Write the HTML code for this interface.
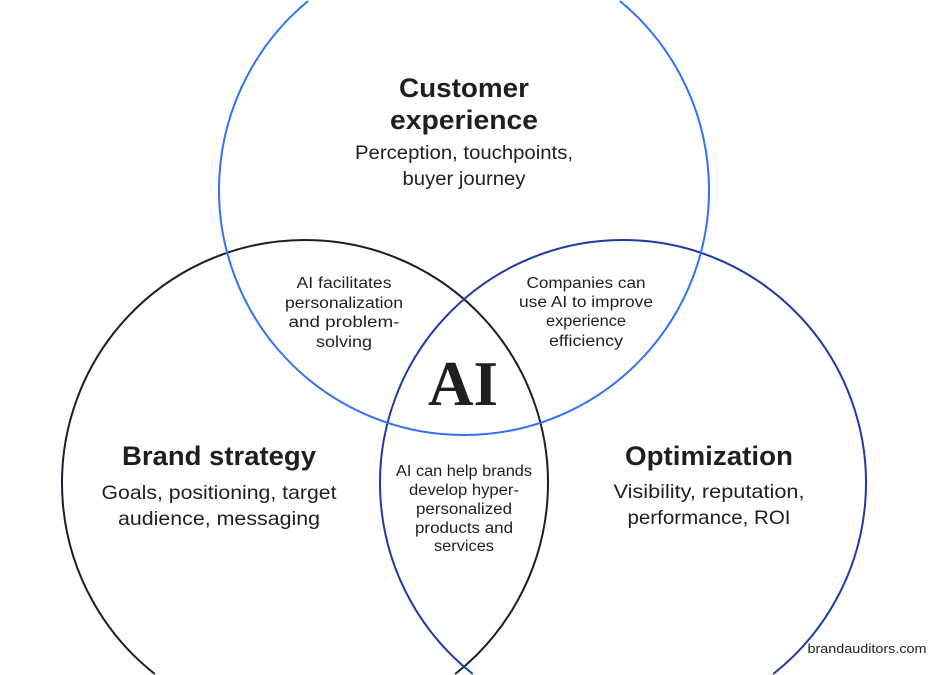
<!DOCTYPE html>
<html>
<head>
<meta charset="utf-8">
<style>
html,body{margin:0;padding:0;background:#fff;width:935px;height:675px;overflow:hidden;}
svg{display:block;overflow:hidden;}
text{font-family:"Liberation Sans",Arial,sans-serif;fill:#1f1f1f;}
.t{font-weight:bold;font-size:26.5px;}
.s{font-size:19.5px;}
.m{font-size:15.5px;}
</style>
</head>
<body>
<svg width="935" height="675" viewBox="0 0 935 675" xmlns="http://www.w3.org/2000/svg">
<rect width="935" height="675" fill="#fff"/>
<path d="M 154.8 674 A 243 243 0 1 1 455.2 674" fill="none" stroke="#1c1d2b" stroke-width="2"/>
<path d="M 472.8 674 A 243 243 0 1 1 773.2 674" fill="none" stroke="#1c3aa8" stroke-width="2"/>
<path d="M 619.9 1 A 245 245 0 1 1 308.1 1" fill="none" stroke="#3471f6" stroke-width="2"/>

<text class="t" x="464" y="97" text-anchor="middle" textLength="130" lengthAdjust="spacingAndGlyphs">Customer</text>
<text class="t" x="464" y="129" text-anchor="middle" textLength="148" lengthAdjust="spacingAndGlyphs">experience</text>
<text class="s" x="464" y="159" text-anchor="middle" textLength="218" lengthAdjust="spacingAndGlyphs">Perception, touchpoints,</text>
<text class="s" x="464" y="185" text-anchor="middle" textLength="123" lengthAdjust="spacingAndGlyphs">buyer journey</text>

<text class="m" x="344" y="288" text-anchor="middle" textLength="95" lengthAdjust="spacingAndGlyphs">AI facilitates</text>
<text class="m" x="344" y="308" text-anchor="middle" textLength="118" lengthAdjust="spacingAndGlyphs">personalization</text>
<text class="m" x="344" y="327" text-anchor="middle" textLength="111" lengthAdjust="spacingAndGlyphs">and problem-</text>
<text class="m" x="344" y="347" text-anchor="middle" textLength="56" lengthAdjust="spacingAndGlyphs">solving</text>

<text class="m" x="586" y="288" text-anchor="middle" textLength="119" lengthAdjust="spacingAndGlyphs">Companies can</text>
<text class="m" x="586" y="307" text-anchor="middle" textLength="134" lengthAdjust="spacingAndGlyphs">use AI to improve</text>
<text class="m" x="586" y="326" text-anchor="middle" textLength="80" lengthAdjust="spacingAndGlyphs">experience</text>
<text class="m" x="586" y="346" text-anchor="middle" textLength="74" lengthAdjust="spacingAndGlyphs">efficiency</text>

<text x="463" y="405" text-anchor="middle" textLength="70" lengthAdjust="spacingAndGlyphs" style="font-family:'Liberation Serif','Times New Roman',serif;font-weight:bold;font-size:64px;fill:#1f1f1f;">AI</text>

<text class="t" x="219" y="465" text-anchor="middle" textLength="194" lengthAdjust="spacingAndGlyphs">Brand strategy</text>
<text class="s" x="219" y="499" text-anchor="middle" textLength="235" lengthAdjust="spacingAndGlyphs">Goals, positioning, target</text>
<text class="s" x="219" y="525" text-anchor="middle" textLength="202" lengthAdjust="spacingAndGlyphs">audience, messaging</text>

<text class="t" x="709" y="465" text-anchor="middle" textLength="168" lengthAdjust="spacingAndGlyphs">Optimization</text>
<text class="s" x="709" y="498" text-anchor="middle" textLength="191" lengthAdjust="spacingAndGlyphs">Visibility, reputation,</text>
<text class="s" x="709" y="524" text-anchor="middle" textLength="163" lengthAdjust="spacingAndGlyphs">performance, ROI</text>

<text class="m" x="464" y="476" text-anchor="middle" textLength="136" lengthAdjust="spacingAndGlyphs">AI can help brands</text>
<text class="m" x="464" y="495" text-anchor="middle" textLength="110" lengthAdjust="spacingAndGlyphs">develop hyper-</text>
<text class="m" x="464" y="514" text-anchor="middle" textLength="96" lengthAdjust="spacingAndGlyphs">personalized</text>
<text class="m" x="464" y="533" text-anchor="middle" textLength="98" lengthAdjust="spacingAndGlyphs">products and</text>
<text class="m" x="464" y="551" text-anchor="middle" textLength="60" lengthAdjust="spacingAndGlyphs">services</text>

<text x="867" y="653" text-anchor="middle" textLength="119" lengthAdjust="spacingAndGlyphs" style="font-size:13px;fill:#222;">brandauditors.com</text>
</svg>
</body>
</html>
